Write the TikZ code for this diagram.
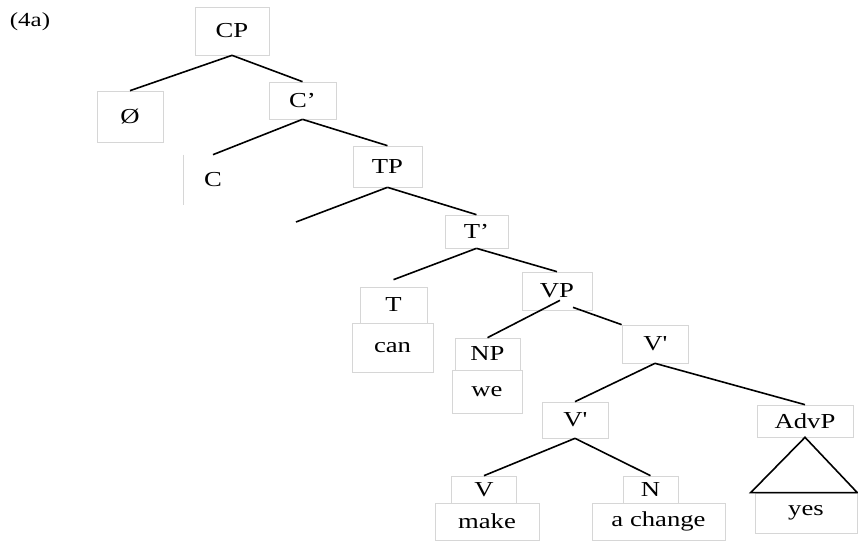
\documentclass[tikz,border=0pt]{standalone}
\usepackage{fontspec}
\setmainfont{Liberation Serif}[FakeStretch=1.25]

\tikzset{every picture/.style={line width=0.75pt}}
\tikzset{
  branch/.style={line width=1.2pt},
  cell/.style 2 args={draw=black!16, line width=0.5pt, inner sep=0pt,
    minimum width=#1*0.75pt, minimum height=#2*0.75pt,
    font=\fontsize{16}{18}\selectfont},
}

\begin{document}
\begin{tikzpicture}[x=0.75pt,y=0.75pt,yscale=-1,xscale=1]
\useasboundingbox (0,0) rectangle (858,542);

        \node[font=\fontsize{15}{17}\selectfont] (ex) at (30,22){(4a)};

        \node[cell={74}{48}] (cp) at (232,31){CP};
        \node[cell={66}{51}] (empty) at (130,116.5){Ø};
        \node[cell={67}{37}] (cbar) at (302.5,100.5){C’};
        \node[cell={58}{50},draw=none] (c) at (213,180){C};
        \node[cell={69}{41}] (tp) at (387.5,166.5){TP};
        \coordinate (tpspec) at (296,222);
        \node[cell={63}{33}] (tbar) at (476.5,231.5){T’};
        \node[cell={67}{36}] (t) at (393.5,305){T};
        \node[cell={81}{49}] (can) at (392.5,347.5){can};
        \node[cell={70}{38}] (vp) at (557,291){VP};
        \node[cell={65}{32}] (np) at (487.5,354){NP};
        \node[cell={70}{43}] (we) at (487,391.5){we};
        \node[cell={66}{38}] (vbar1) at (655,344){V\textquotesingle};
        \node[cell={66}{36}] (vbar2) at (575,420){V\textquotesingle};
        \node[cell={96}{32}] (advp) at (805,421){AdvP};
        \node[cell={102}{40}] (yes) at (806,513){yes};
        \node[cell={65}{27}] (v) at (484,489.5){V};
        \node[cell={104}{37}] (make) at (487,521.5){make};
        \node[cell={55}{27}] (n) at (650.5,489.5){N};
        \node[cell={133}{37}] (change) at (658.5,521.5){a change};

        \draw[draw=black!16, line width=0.5pt] (c.north west) -- (c.south west);

        \draw[branch] (cp.south) -- (empty.north);
        \draw[branch] (cp.south) -- (cbar.north);
        \draw[branch] (cbar.south) -- (c.north);
        \draw[branch] (cbar.south) -- (tp.north);
        \draw[branch] (tp.south) -- (tpspec);
        \draw[branch] (tp.south) -- (tbar.north);
        \draw[branch] (tbar.south) -- ([shift={(0,-7)}]t.north);
        \draw[branch] (tbar.south) -- (vp.north);
        \draw[branch] ([shift={(3,-10)}]vp.south) -- (np.north);
        \draw[branch] ([shift={(16,-3)}]vp.south) -- (vbar1.north west);
        \draw[branch] (vbar1.south) -- (vbar2.north);
        \draw[branch] (vbar1.south) -- (advp.north);
        \draw[branch] (vbar2.south) -- (v.north);
        \draw[branch] (vbar2.south) -- (n.north);

        \draw[branch] (advp.south) -- ([shift={(-4,0)}]yes.north west) -- (yes.north east) -- cycle;

\end{tikzpicture}
\end{document}
